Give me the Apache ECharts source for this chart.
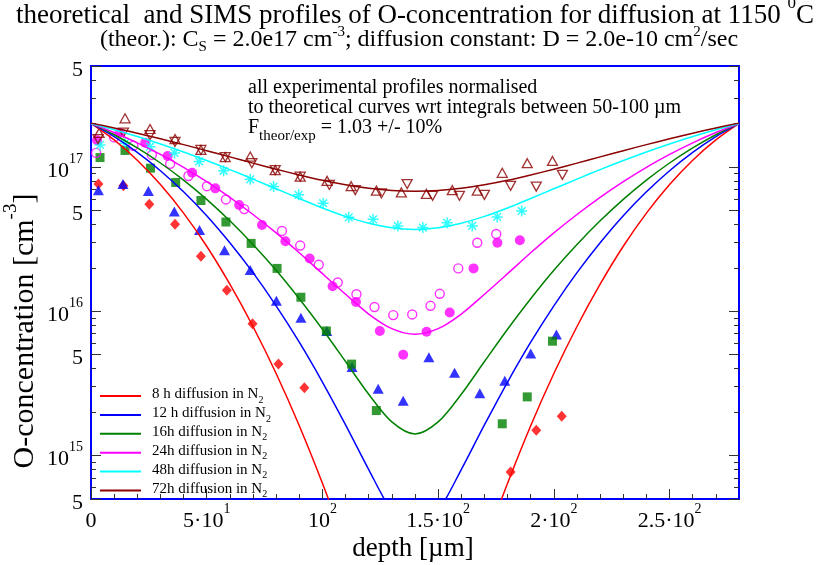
<!DOCTYPE html>
<html>
<head>
<meta charset="utf-8">
<script src="https://cdn.jsdelivr.net/npm/echarts@6/dist/echarts.min.js"></script>
<style>
  html, body { margin: 0; padding: 0; background: #fff; }
  #main { width: 823px; height: 565px; }
</style>
</head>
<body>
<div id="main"></div>
<script>
// theoretical profiles, every 10 um (cm^-3)
const theoryDepth = [0, 10, 20, 30, 40, 50, 60, 70, 80, 90, 100, 110, 120, 130, 140,
  150, 160, 170, 180, 190, 200, 210, 220, 230, 240, 250, 260, 270, 280];
const theory8h = [2.0e17, 1.537e17, 1.112e17, 7.54e16, 4.78e16, 2.82e16, 1.54e16, 7.84e15, 3.7e15, 1.61e15,
  6.43e14, 2.37e14, 8.1e13, 2.6e13, 1.5e13, 2.6e13, 8.1e13, 2.37e14, 6.43e14, 1.61e15,
  3.7e15, 7.84e15, 1.54e16, 2.82e16, 4.78e16, 7.54e16, 1.112e17, 1.537e17, 2.0e17];
const theory12h = [2.0e17, 1.62e17, 1.261e17, 9.41e16, 6.72e16, 4.59e16, 2.98e16, 1.85e16, 1.09e16, 6.1e15,
  3.23e15, 1.63e15, 8.0e14, 4.14e14, 3.03e14, 4.14e14, 8.0e14, 1.63e15, 3.23e15, 6.1e15,
  1.09e16, 1.85e16, 2.98e16, 4.59e16, 6.72e16, 9.41e16, 1.261e17, 1.62e17, 2.0e17];
const theory16h = [2.0e17, 1.67e17, 1.354e17, 1.064e17, 8.10e16, 5.96e16, 4.23e16, 2.90e16, 1.92e16, 1.22e16,
  7.5e15, 4.48e15, 2.66e15, 1.71e15, 1.41e15, 1.71e15, 2.66e15, 4.48e15, 7.5e15, 1.22e16,
  1.92e16, 2.90e16, 4.23e16, 5.96e16, 8.10e16, 1.064e17, 1.354e17, 1.67e17, 2.0e17];
const theory24h = [2.0e17, 1.73e17, 1.468e17, 1.22e17, 9.93e16, 7.90e16, 6.15e16, 4.68e16, 3.49e16, 2.54e16,
  1.82e16, 1.31e16, 9.56e15, 7.57e15, 6.92e15, 7.57e15, 9.56e15, 1.31e16, 1.82e16, 2.54e16,
  3.49e16, 4.68e16, 6.15e16, 7.90e16, 9.93e16, 1.22e17, 1.468e17, 1.73e17, 2.0e17];
const theory48h = [2.0e17, 1.811e17, 1.624e17, 1.442e17, 1.269e17, 1.107e17, 9.58e16, 8.23e16, 7.05e16, 6.04e16,
  5.19e16, 4.54e16, 4.07e16, 3.79e16, 3.69e16, 3.79e16, 4.07e16, 4.54e16, 5.19e16, 6.04e16,
  7.05e16, 8.23e16, 9.58e16, 1.107e17, 1.269e17, 1.442e17, 1.624e17, 1.811e17, 2.0e17];
const theory72h = [2.01e17, 1.86e17, 1.71e17, 1.565e17, 1.426e17, 1.295e17, 1.173e17, 1.062e17, 9.64e16, 8.79e16,
  8.07e16, 7.51e16, 7.10e16, 6.85e16, 6.78e16, 6.85e16, 7.10e16, 7.51e16, 8.07e16, 8.79e16,
  9.64e16, 1.062e17, 1.173e17, 1.295e17, 1.426e17, 1.565e17, 1.71e17, 1.86e17, 2.01e17];

const curveNames = ['8 h diffusion in N2', '12 h diffusion in N2', '16h diffusion in N2',
  '24h diffusion in N2', '48h diffusion in N2', '72h diffusion in N2'];
const curveColors = ['#ff0000', '#0000ff', '#008000', '#ff00ff', '#00ffff', '#8b0000'];

// SIMS points: [depth um, concentration cm^-3]
const sims8h = [[3.2, 7.6e16], [14.0, 7.4e16], [25.2, 5.5e16], [36.3, 4.0e16], [47.5, 2.4e16], [58.7, 1.4e16],
  [69.8, 8.2e15], [81.0, 4.3e15], [92.2, 2.95e15], [181.3, 7.7e14], [192.4, 1.5e15], [203.4, 1.87e15]];
const sims12h = [[3.2, 6.9e16], [13.8, 7.6e16], [24.8, 6.8e16], [36.0, 4.9e16], [46.9, 3.65e16], [57.7, 2.65e16],
  [68.8, 1.93e16], [80.1, 1.18e16], [90.7, 9.0e15], [101.9, 7.3e15], [112.8, 4.1e15], [124.1, 2.9e15],
  [134.9, 2.4e15], [146.0, 4.8e15], [157.1, 3.75e15], [168.0, 2.7e15], [178.8, 3.3e15], [190.0, 5.1e15], [201.1, 6.9e15]];
const sims16h = [[3.9, 1.16e17], [14.7, 1.30e17], [25.7, 9.8e16], [36.6, 7.8e16], [47.5, 5.85e16], [58.3, 4.15e16],
  [69.2, 2.95e16], [80.4, 1.98e16], [90.7, 1.25e16], [101.7, 7.3e15], [112.6, 4.3e15], [123.3, 2.05e15],
  [177.7, 1.66e15], [188.5, 2.55e15], [199.4, 6.2e15]];
const sims24hFilled = [[2.6, 1.53e17], [12.5, 1.72e17], [23.4, 1.47e17], [33.1, 1.19e17], [43.7, 9.1e16], [53.7, 7.1e16],
  [64.0, 5.45e16], [73.9, 3.96e16], [84.0, 3.05e16], [94.5, 2.32e16], [104.4, 1.49e16], [114.5, 1.16e16],
  [124.8, 7.3e15], [134.9, 5.0e15], [145.0, 7.2e15], [155.0, 9.8e15], [165.3, 1.98e16], [175.6, 2.98e16], [185.3, 3.1e16]];
const sims24hOpen = [[2.2, 1.25e17], [10.0, 1.60e17], [18.3, 1.40e17], [26.3, 1.21e17], [34.2, 1.05e17], [42.1, 8.65e16],
  [50.1, 7.35e16], [58.3, 5.95e16], [66.2, 5.1e16], [82.5, 3.6e16], [90.4, 2.85e16], [98.4, 2.1e16],
  [106.6, 1.58e16], [114.7, 1.31e16], [122.5, 1.07e16], [130.6, 9.4e15], [138.8, 9.5e15], [146.7, 1.09e16],
  [150.7, 1.32e16], [158.7, 1.98e16], [166.9, 2.98e16], [175.1, 3.43e16]];
const sims48h = [[3.9, 1.42e17], [14.7, 1.46e17], [25.5, 1.38e17], [36.1, 1.25e17], [46.7, 1.09e17], [57.3, 9.4e16],
  [68.8, 8.2e16], [78.9, 7.3e16], [89.7, 6.4e16], [100.3, 5.6e16], [111.4, 4.47e16], [121.9, 4.33e16],
  [132.6, 3.9e16], [143.4, 3.8e16], [153.9, 4.1e16], [164.7, 3.9e16], [175.5, 4.5e16], [186.1, 4.95e16]];
const sims72hUp = [[3.5, 1.72e17], [14.7, 2.17e17], [25.5, 1.83e17], [36.3, 1.56e17], [47.5, 1.31e17], [58.0, 1.17e17],
  [68.8, 1.18e17], [79.6, 9.5e16], [90.4, 8.55e16], [102.0, 8.0e16], [112.4, 7.35e16], [123.3, 6.85e16],
  [134.1, 6.65e16], [144.9, 6.5e16], [156.1, 6.9e16], [166.9, 6.85e16], [177.7, 9.1e16], [188.5, 1.06e17], [199.4, 1.10e17]];
const sims72hDown = [[3.0, 1.56e17], [14.0, 1.73e17], [25.5, 1.66e17], [36.3, 1.49e17], [47.5, 1.31e17], [58.0, 1.17e17],
  [69.5, 1.06e17], [79.6, 9.5e16], [90.4, 8.55e16], [103.0, 7.5e16], [114.2, 6.9e16], [125.5, 6.55e16],
  [136.6, 7.6e16], [147.6, 6.3e16], [159.2, 6.3e16], [170.0, 6.4e16], [181.3, 7.4e16], [192.4, 7.3e16], [203.7, 8.8e16]];

// axis ticks
const xMajorTicks = [0, 50, 100, 150, 200, 250];
const xTickLabels = ['0', '5·10^1', '10^2', '1.5·10^2', '2·10^2', '2.5·10^2'];
const xMinorTicks = [10, 20, 30, 40, 60, 70, 80, 90, 110, 120, 130, 140, 160, 170, 180, 190,
  210, 220, 230, 240, 260, 270];
const yMajorTicks = [5e14, 1e15, 5e15, 1e16, 5e16, 1e17, 5e17];
const yMinorTicks = [6e14, 7e14, 8e14, 9e14, 2e15, 3e15, 4e15, 6e15, 7e15, 8e15, 9e15,
  2e16, 3e16, 4e16, 6e16, 7e16, 8e16, 9e16, 2e17, 3e17, 4e17];

const serif = 'Liberation Serif';
const lg = Math.log10;
const yMin = lg(5e14), yMax = lg(5e17);

function toRich(s) {
  const parts = s.split('^');
  return '{b|' + parts[0] + '}' + (parts[1] ? '{s|' + parts[1] + '}' : '');
}
function yLabel(v) {
  const e = Math.floor(v + 1e-6);
  const m = Math.round(Math.pow(10, v - e));
  return m === 1 ? '{b|10}{s|' + e + '}' : '{b|' + m + '}';
}
const tickRich = {
  b: { fontFamily: serif, fontSize: 22, lineHeight: 30, verticalAlign: 'bottom', color: '#000' },
  s: { fontFamily: serif, fontSize: 14, lineHeight: 14, verticalAlign: 'top', color: '#000' }
};

const chart = echarts.init(document.getElementById('main'));

const lineSeries = [theory8h, theory12h, theory16h, theory24h, theory48h, theory72h].map((vals, k) => ({
  type: 'line',
  name: curveNames[k],
  data: theoryDepth.map((d, i) => [d, lg(vals[i])]),
  symbol: 'none',
  smooth: 0.3,
  silent: true,
  lineStyle: { color: curveColors[k], width: 1.5 },
  itemStyle: { color: curveColors[k] }
}));

function marks(data, symbol, size, itemStyle, extra) {
  return Object.assign({
    type: 'scatter',
    data: data.map(p => [p[0], lg(p[1])]),
    symbol: symbol,
    symbolSize: size,
    silent: true,
    itemStyle: itemStyle
  }, extra || {});
}
const clear = 'rgba(0,0,0,0)';
const asterisk = 'path://M10,0L10,20M0,10L20,10M3,3L17,17M3,17L17,3';
const scatterSeries = [
  marks(sims8h, 'diamond', [10, 11], { color: '#ff0000' }),
  marks(sims12h, 'triangle', [11, 10], { color: '#0000ff' }),
  marks(sims16h, 'rect', 9, { color: '#008000' }),
  marks(sims24hFilled, 'circle', 10, { color: '#ff00ff' }),
  marks(sims24hOpen, 'circle', 9, { color: clear, borderColor: '#ff00ff', borderWidth: 1.4 }),
  marks(sims48h, asterisk, 11, { color: clear, borderColor: '#00ffff', borderWidth: 1.5 }),
  marks(sims72hUp, 'triangle', [10, 9], { color: clear, borderColor: '#8b0000', borderWidth: 1.3 }),
  marks(sims72hDown, 'triangle', [10, 9], { color: clear, borderColor: '#8b0000', borderWidth: 1.3 }, { symbolRotate: 180 })
];

function yAxisDef(position, ticks, len, labels) {
  return {
    type: 'value', min: yMin, max: yMax, position: position,
    axisLine: { show: false }, splitLine: { show: false },
    axisTick: { show: true, inside: true, length: len, customValues: ticks.map(lg),
      lineStyle: { color: '#333', width: 1 } },
    axisLabel: labels
      ? { show: true, customValues: ticks.map(lg), margin: 8, formatter: yLabel, rich: tickRich }
      : { show: false }
  };
}
function xAxisDef(ticks, len, labels) {
  return {
    type: 'value', min: 0, max: 280, position: 'bottom',
    axisLine: { show: false }, splitLine: { show: false },
    axisTick: { show: true, inside: true, length: len, customValues: ticks,
      lineStyle: { color: '#333', width: 1 } },
    axisLabel: labels
      ? { show: true, customValues: ticks, margin: 3, rich: tickRich,
          formatter: v => toRich(xTickLabels[xMajorTicks.indexOf(v)] || '') }
      : { show: false }
  };
}

const txt = (x, y, text, rich, extra) => Object.assign({
  type: 'text', x: x, y: y, silent: true,
  style: { text: text, fill: '#000', align: 'left', verticalAlign: 'middle',
    textAlign: 'left', textVerticalAlign: 'middle', rich: rich }
}, extra || {});
const centered = el => { el.style.align = el.style.textAlign = 'center'; return el; };

const titleRich = {
  b: { fontFamily: serif, fontSize: 27, lineHeight: 34, verticalAlign: 'bottom', fill: '#000' },
  s: { fontFamily: serif, fontSize: 17, lineHeight: 18, verticalAlign: 'top', fill: '#000' }
};
const subRich = {
  b: { fontFamily: serif, fontSize: 24, lineHeight: 30, verticalAlign: 'middle', fill: '#000' },
  p: { fontFamily: serif, fontSize: 15, lineHeight: 15, verticalAlign: 'top', fill: '#000' },
  d: { fontFamily: serif, fontSize: 15, lineHeight: 15, verticalAlign: 'bottom', fill: '#000' }
};
const noteRich = {
  b: { fontFamily: serif, fontSize: 20, lineHeight: 26, verticalAlign: 'top', fill: '#000' },
  d: { fontFamily: serif, fontSize: 15, lineHeight: 15, verticalAlign: 'bottom', fill: '#000' }
};
const xNameRich = {
  b: { fontFamily: serif, fontSize: 27, lineHeight: 32, fill: '#000' }
};
const yNameRich = {
  b: { fontFamily: serif, fontSize: 30, lineHeight: 38, verticalAlign: 'bottom', fill: '#000' },
  s: { fontFamily: serif, fontSize: 19, lineHeight: 19, verticalAlign: 'top', fill: '#000' }
};

const option = {
  animation: false,
  backgroundColor: '#fff',
  grid: { left: 91, top: 66, right: 84, bottom: 66, show: true, borderColor: '#0000ff', borderWidth: 2,
    backgroundColor: 'transparent', outerBoundsMode: 'none' },
  xAxis: [xAxisDef(xMajorTicks, 10, true), xAxisDef(xMinorTicks, 5, false)],
  yAxis: [
    yAxisDef('left', yMajorTicks, 10, true),
    yAxisDef('left', yMinorTicks, 5, false),
    yAxisDef('right', yMajorTicks, 10, false),
    yAxisDef('right', yMinorTicks, 5, false)
  ],
  legend: {
    data: curveNames,
    orient: 'vertical',
    left: 95,
    top: 382,
    icon: 'rect',
    itemWidth: 41,
    itemHeight: 2,
    itemGap: 0.9,
    selectedMode: false,
    formatter: name => '{b|' + name.replace(/N2$/, 'N') + '}{d|2}',
    textStyle: {
      color: '#000',
      rich: {
        b: { fontFamily: serif, fontSize: 15, lineHeight: 18, verticalAlign: 'top', color: '#000', padding: [0, 0, 0, 6] },
        d: { fontFamily: serif, fontSize: 10, lineHeight: 10, verticalAlign: 'bottom', color: '#000' }
      }
    }
  },
  graphic: [
    centered(txt(415, 12.5, '{b|theoretical  and SIMS profiles of O-concentration for diffusion at 1150 }{s|0}{b|C}', titleRich)),
    centered(txt(419, 40, '{b|(theor.): C}{d|S}{b| = 2.0e17 cm}{p|-3}{b|; diffusion constant: D = 2.0e-10 cm}{p|2}{b|/sec}', subRich)),
    txt(248, 91, '{b|all experimental profiles normalised}', noteRich),
    txt(248, 111, '{b|to theoretical curves wrt integrals between 50-100 µm}', noteRich),
    txt(248, 131, '{b|F}{d|theor/exp}{b| = 1.03 +/- 10%}', noteRich),
    centered(txt(413, 549, '{b|depth [µm]}', xNameRich)),
    centered(txt(21, 331, '{b|O-concentration [cm}{s|-3}{b|]}', yNameRich, { rotation: Math.PI / 2 }))
  ],
  series: lineSeries.concat(scatterSeries)
};

chart.setOption(option);
</script>
</body>
</html>
